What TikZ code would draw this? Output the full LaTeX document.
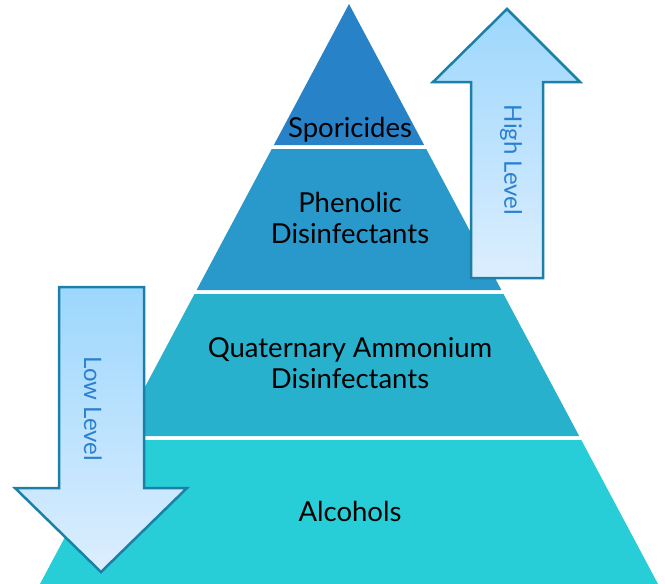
\documentclass[tikz,border=0pt]{standalone}
\usepackage{fontspec}
\setmainfont{Lato}
\definecolor{layerA}{HTML}{2882C8}
\definecolor{layerB}{HTML}{2899CA}
\definecolor{layerC}{HTML}{27B1CD}
\definecolor{layerD}{HTML}{27CDD7}
\definecolor{arrowline}{HTML}{1B80A8}
\definecolor{arrowtext}{HTML}{2A80CF}
\definecolor{arrowtop}{HTML}{9DD7FD}
\definecolor{arrowbot}{HTML}{DCEEFE}
\tikzset{
	layertext/.style={font=\fontsize{27.5}{30.5}\selectfont, align=center, inner sep=0pt},
	bigarrow/.style={draw=arrowline, line width=2.5pt, line join=miter, top color=arrowtop, bottom color=arrowbot},
	arrowlabel/.style={font=\fontsize{24}{24}\selectfont, text=arrowtext, rotate=-90, inner sep=0pt}
}
\begin{document}
\begin{tikzpicture}[x=1pt,y=-1pt]
	\useasboundingbox (0,0) rectangle (665,584);
	% pyramid layers, apex at (349,4)
	\foreach \ya/\yb/\col in {4/145/layerA, 149/290/layerB, 294/436/layerC, 440/584/layerD}{
		\pgfmathsetmacro\wa{0.5328*(\ya-4)}
		\pgfmathsetmacro\wb{0.5328*(\yb-4)}
		\fill[\col] ({349-\wa},\ya) -- ({349+\wa},\ya) -- ({349+\wb},\yb) -- ({349-\wb},\yb) -- cycle;
	}
	% base anchor = baseline of the last line
	\node[layertext, anchor=base] (spor) at (350,137) {Sporicides};
	\node[layertext, anchor=base] (phen) at (350,243) {Phenolic\\Disinfectants};
	\node[layertext, anchor=base] (quat) at (350,388) {Quaternary Ammonium\\Disinfectants};
	\node[layertext, anchor=base] (alc) at (350,521) {Alcohols};
	% level arrows
	\draw[bigarrow] (471,278) -- (471,82) -- (433,82) -- (507,9) -- (580,82) -- (543,82) -- (543,278) -- cycle;
	\draw[bigarrow] (59,287) -- (144,287) -- (144,488) -- (187,488) -- (101,572) -- (15,488) -- (59,488) -- cycle;
	\node[arrowlabel] (high) at (511,160) {High Level};
	\node[arrowlabel] (low) at (93,409) {Low Level};
\end{tikzpicture}
\end{document}
